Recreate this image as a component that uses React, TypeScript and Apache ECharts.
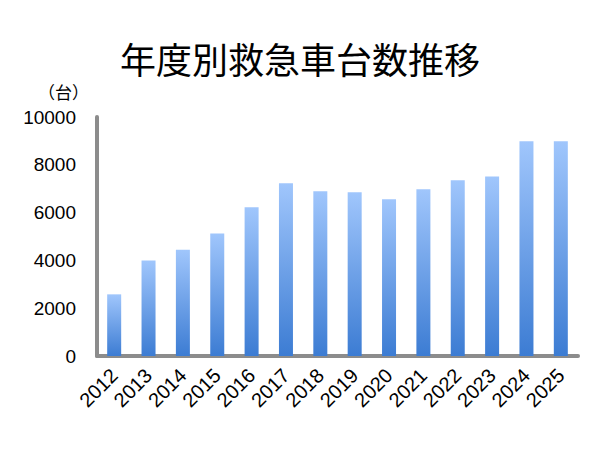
import { useEffect, useRef } from 'react'
import * as echarts from 'echarts'

const years = ['2012', '2013', '2014', '2015', '2016', '2017', '2018', '2019', '2020', '2021', '2022', '2023', '2024', '2025']
const counts = [2580, 4000, 4450, 5130, 6220, 7230, 6890, 6850, 6560, 6980, 7350, 7510, 8990, 8990]
const yTicks = [0, 2000, 4000, 6000, 8000, 10000]

const titleText = '年度別救急車台数推移'
const unitText = '（台）'

export default function App() {
  const chartRef = useRef<HTMLDivElement>(null)

  useEffect(() => {
    if (!chartRef.current) return
    const chart = echarts.init(chartRef.current, null, { renderer: 'svg' })

    const option: echarts.EChartsOption = {
      animation: false,
      backgroundColor: '#fff',
      title: {
        text: titleText,
        left: 'center',
        top: 35,
        textStyle: {
          fontFamily: 'Noto Sans CJK JP',
          fontSize: 36,
          fontWeight: 'normal',
          color: '#000',
        },
      },
      grid: { left: 97, right: 22, top: 117, bottom: 94 },
      xAxis: {
        type: 'category',
        data: years,
        axisLine: { show: true, lineStyle: { color: '#8c8c8c', width: 4 } },
        axisTick: { show: false },
        axisLabel: {
          interval: 0,
          rotate: 45,
          margin: 16,
          color: '#000',
          fontSize: 20,
          fontFamily: 'Liberation Sans',
        },
      },
      yAxis: {
        type: 'value',
        min: yTicks[0],
        max: yTicks[yTicks.length - 1],
        interval: 2000,
        name: unitText,
        nameLocation: 'end',
        nameGap: 26,
        nameTextStyle: {
          align: 'right',
          verticalAlign: 'middle',
          padding: [0, 8, 0, 0],
          fontFamily: 'Noto Sans CJK JP',
          fontSize: 17,
          color: '#000',
        },
        axisLine: { show: true, lineStyle: { color: '#8c8c8c', width: 4 } },
        axisTick: { show: false },
        splitLine: { show: false },
        axisLabel: {
          margin: 21,
          color: '#000',
          fontSize: 19,
          fontFamily: 'Liberation Sans',
          formatter: (v: number) => String(v),
        },
      },
      series: [
        {
          type: 'bar',
          data: counts,
          barWidth: 14,
          itemStyle: {
            color: new echarts.graphic.LinearGradient(0, 0, 0, 1, [
              { offset: 0, color: '#a0c6fc' },
              { offset: 1, color: '#3c7cd3' },
            ]),
          },
        },
      ],
    }

    chart.setOption(option)
    return () => chart.dispose()
  }, [])

  return (
    <div
      ref={chartRef}
      style={{ position: 'absolute', left: 0, top: 0, width: 600, height: 450 }}
    />
  )
}
